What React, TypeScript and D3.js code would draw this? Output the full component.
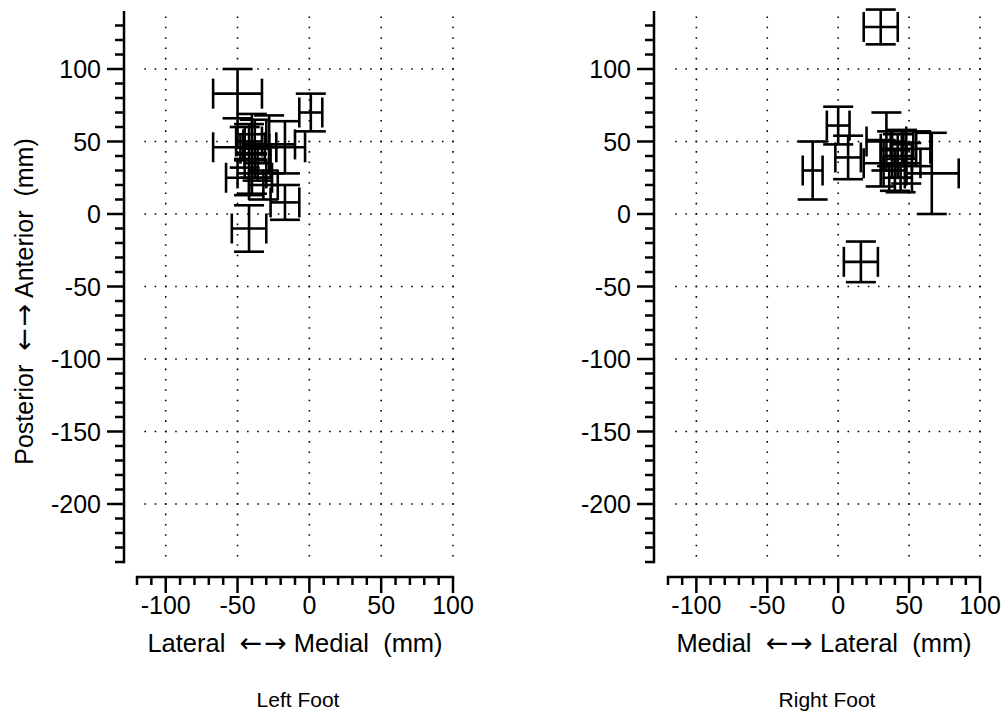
import React from "react";
import * as d3 from "d3";

const width = 1008;
const height = 719;

// left foot: centre and half-width of the error bars (mm)
const leftX = [-50, 1, -45, -17, -40, -42, -38, -36, -40, -42, -32, -17, -42, -28];
const leftY = [83, 70, 46, 46, 55, 50, 45, 35, 28, 25, 20, 8, -10, 48];
const leftXErr = [17, 8, 22, 14, 10, 9, 10, 9, 10, 16, 10, 10, 12, 18];
const leftYErr = [17, 13, 14, 18, 14, 12, 20, 12, 14, 12, 10, 12, 16, 20];

// right foot
const rightX = [30, 16, -18, 0, 7, 66, 34, 38, 42, 45, 40, 48, 55, 44, 30];
const rightY = [129, -33, 30, 61, 39, 28, 50, 45, 40, 48, 30, 35, 45, 25, 35];
const rightXErr = [12, 12, 7, 8, 9, 19, 14, 8, 10, 8, 8, 10, 10, 8, 12];
const rightYErr = [12, 14, 20, 13, 15, 28, 20, 12, 15, 10, 14, 14, 12, 10, 16];

const xTicks = [-100, -50, 0, 50, 100];
const yTicks = [100, 50, 0, -50, -100, -150, -200];

const font = "'Liberation Sans', Arial, Helvetica, sans-serif";
const arrowFont = "'DejaVu Sans', sans-serif";
const cap = 30;

type PanelProps = {
  xs: number[];
  ys: number[];
  xe: number[];
  ye: number[];
  xRange: [number, number];
  axisX: number;
  xTitle: [string, string];
  footLabel: string;
  showYTitle: boolean;
};

// "A ← → B  (mm)" with wider arrows than the sans font gives
const ArrowTitle = ({ left, right }: { left: string; right: string }) => (
  <>
    <tspan>{left + "  "}</tspan>
    <tspan fontFamily={arrowFont} fontSize={27}>
      ←
    </tspan>
    <tspan fontFamily={arrowFont} fontSize={27} dx={2}>
      →
    </tspan>
    <tspan>{" " + right + "  (mm)"}</tspan>
  </>
);

const Panel = ({ xs, ys, xe, ye, xRange, axisX, xTitle, footLabel, showYTitle }: PanelProps) => {
  const x = d3.scaleLinear([-120, 100], xRange);
  const y = d3.scaleLinear([-240, 140], [562, 11]);
  const axisY = 577;

  const px = (x(50) - x(0)) / 7;
  const py = (y(0) - y(50)) / 7;
  const dot = 1.6;

  const minorX = d3.range(-120, 101, 10).filter((v) => v % 50 !== 0);
  const minorY = d3.range(-240, 131, 10).filter((v) => v % 50 !== 0);

  const xMid = (xRange[0] + xRange[1]) / 2;

  return (
    <g>
      {/* dotted grid */}
      {xTicks.map((t) => (
        <line
          key={"gx" + t}
          x1={x(t)}
          x2={x(t)}
          y1={y(100) - 5 * py - dot / 2}
          y2={y(-200) + 5 * py + dot}
          stroke="#000"
          strokeWidth={1.6}
          strokeDasharray={`${dot} ${py - dot}`}
        />
      ))}
      {yTicks.map((t) => (
        <line
          key={"gy" + t}
          x1={x(-100) - 2 * px - dot / 2}
          x2={x(100) + dot}
          y1={y(t)}
          y2={y(t)}
          stroke="#000"
          strokeWidth={1.6}
          strokeDasharray={`${dot} ${px - dot}`}
        />
      ))}

      {/* y axis */}
      <g stroke="#000" strokeWidth={2.5}>
        <line x1={axisX} x2={axisX} y1={y(140)} y2={y(-240) + 1.2} />
        {yTicks.map((t) => (
          <line key={"ym" + t} x1={axisX - 17} x2={axisX} y1={y(t)} y2={y(t)} />
        ))}
        {minorY.map((t) => (
          <line key={"yn" + t} x1={axisX - 9} x2={axisX} y1={y(t)} y2={y(t)} />
        ))}
      </g>
      {yTicks.map((t) => (
        <text
          key={"yl" + t}
          x={axisX - 23}
          y={y(t)}
          dy="0.36em"
          textAnchor="end"
          fontFamily={font}
          fontSize={25}
        >
          {t}
        </text>
      ))}

      {/* x axis */}
      <g stroke="#000" strokeWidth={2.5}>
        <line x1={x(-120) - 1.2} x2={x(100) + 1.2} y1={axisY} y2={axisY} />
        {xTicks.map((t) => (
          <line key={"xm" + t} x1={x(t)} x2={x(t)} y1={axisY} y2={axisY + 16} />
        ))}
        {minorX.map((t) => (
          <line key={"xn" + t} x1={x(t)} x2={x(t)} y1={axisY} y2={axisY + 8} />
        ))}
      </g>
      {xTicks.map((t) => (
        <text key={"xl" + t} x={x(t)} y={614} textAnchor="middle" fontFamily={font} fontSize={25}>
          {t}
        </text>
      ))}
      <text x={xMid} y={652} textAnchor="middle" fontFamily={font} fontSize={25.5} style={{ whiteSpace: "pre" }}>
        <ArrowTitle left={xTitle[0]} right={xTitle[1]} />
      </text>
      <text x={xMid + 3} y={707} textAnchor="middle" fontFamily={font} fontSize={21}>
        {footLabel}
      </text>
      {showYTitle && (
        <text
          transform={`translate(33, ${(y(140) + y(-240)) / 2 + 15}) rotate(-90)`}
          textAnchor="middle"
          fontFamily={font}
          fontSize={25}
          style={{ whiteSpace: "pre" }}
        >
          <ArrowTitle left="Posterior" right="Anterior" />
        </text>
      )}

      {/* error bar crosses */}
      <g stroke="#000" strokeWidth={2.6} fill="none">
        {xs.map((v, i) => {
          const cx = x(v);
          const cy = y(ys[i]);
          const x0 = x(v - xe[i]);
          const x1 = x(v + xe[i]);
          const y0 = y(ys[i] + ye[i]);
          const y1 = y(ys[i] - ye[i]);
          return (
            <g key={i}>
              <line x1={x0} x2={x1} y1={cy} y2={cy} />
              <line x1={x0} x2={x0} y1={cy - cap / 2} y2={cy + cap / 2} />
              <line x1={x1} x2={x1} y1={cy - cap / 2} y2={cy + cap / 2} />
              <line x1={cx} x2={cx} y1={y0} y2={y1} />
              <line x1={cx - cap / 2} x2={cx + cap / 2} y1={y0} y2={y0} />
              <line x1={cx - cap / 2} x2={cx + cap / 2} y1={y1} y2={y1} />
            </g>
          );
        })}
      </g>
    </g>
  );
};

export default function App() {
  return (
    <svg
      width={width}
      height={height}
      viewBox={`0 0 ${width} ${height}`}
      style={{ position: "absolute", left: 0, top: 0, background: "#fff" }}
    >
      <rect width={width} height={height} fill="#fff" />
      <Panel
        xs={leftX}
        ys={leftY}
        xe={leftXErr}
        ye={leftYErr}
        xRange={[137, 453]}
        axisX={124}
        xTitle={["Lateral", "Medial"]}
        footLabel="Left Foot"
        showYTitle={true}
      />
      <Panel
        xs={rightX}
        ys={rightY}
        xe={rightXErr}
        ye={rightYErr}
        xRange={[668, 980]}
        axisX={654}
        xTitle={["Medial", "Lateral"]}
        footLabel="Right Foot"
        showYTitle={false}
      />
    </svg>
  );
}
